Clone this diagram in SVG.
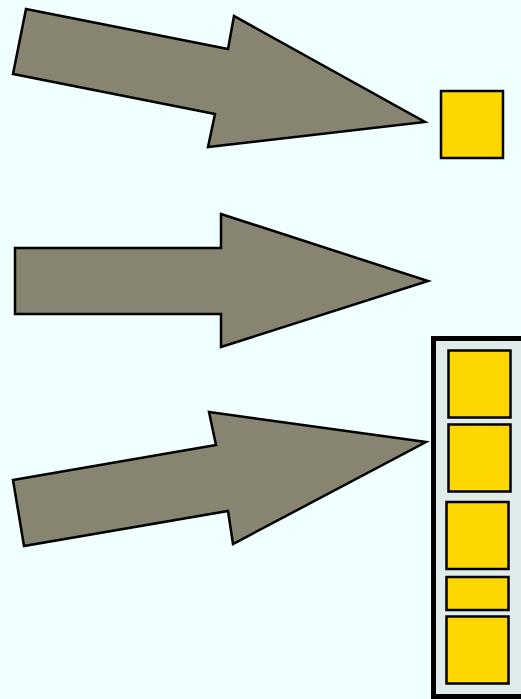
<svg xmlns="http://www.w3.org/2000/svg" width="521" height="699" viewBox="0 0 521 699">
<style>
.arrow{fill:#878472;stroke:#000;stroke-width:2.5;stroke-linejoin:miter}
.box{fill:#FFD700;stroke:#000;stroke-width:2.5}
.cont{fill:#E0EBEB;stroke:#000;stroke-width:5}
</style>
<rect x="0" y="0" width="521" height="699" fill="#F0FFFF"/>
<g id="connectors">
<polygon id="arrow1" class="arrow" points="26,9 228,49 234,16 425,122 208,147 215,114 13,74"/>
<polygon id="arrow2" class="arrow" points="15,248 221,248 221,214 428,281 221,347 221,314 15,314"/>
<polygon id="arrow3" class="arrow" points="13,480 216,445 209,412 426,442 233,544 228,511 24,546"/>
</g>
<g id="node-single">
<rect class="box" x="441" y="91" width="62" height="67"/>
</g>
<g id="node-stack">
<rect class="cont" x="433.5" y="338.5" width="95" height="358"/>
<rect class="box" x="448.5" y="350.5" width="62" height="67"/>
<rect class="box" x="448.5" y="424.5" width="62" height="67"/>
<rect class="box" x="446.5" y="502" width="62" height="67"/>
<rect class="box" x="446.5" y="577" width="62" height="33"/>
<rect class="box" x="446.5" y="616.5" width="62" height="67"/>
</g>
</svg>
